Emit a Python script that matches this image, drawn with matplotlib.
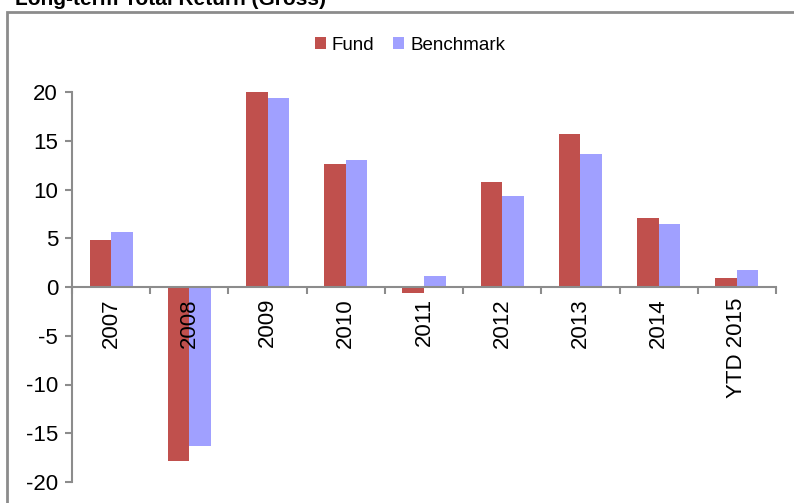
import numpy as np
import matplotlib.pyplot as plt
from matplotlib.patches import Rectangle

plt.rcParams['font.family'] = ['Liberation Sans', 'DejaVu Sans']
plt.rcParams['axes.unicode_minus'] = False

# data
years = ['2007', '2008', '2009', '2010', '2011', '2012', '2013', '2014', 'YTD 2015']
fund = [4.8, -17.8, 20.0, 12.6, -0.6, 10.8, 15.7, 7.1, 0.9]
benchmark = [5.6, -16.3, 19.4, 13.0, 1.1, 9.3, 13.6, 6.5, 1.7]

fund_col = '#c0504d'
bench_col = '#a0a0ff'
grey = '#8c8c8c'

fig = plt.figure(figsize=(7.94, 5.03), dpi=100)

# outer frame and title
fig.patches.append(Rectangle((7/794, -0.05), 1.0, 1 - 12/503 + 0.05,
                             transform=fig.transFigure, fill=False,
                             edgecolor=grey, linewidth=2))
fig.text(15/794, 1 - 5/503, 'Long-term Total Return (Gross)', fontsize=15,
         fontweight='bold', va='baseline', ha='left')

ax = fig.add_axes([72/794, 1 - 482/503, (776 - 72)/794, (482 - 92)/503])

x = np.arange(len(years))
w = 0.275
ax.bar(x - w/2, fund, w, color=fund_col, label='Fund')
ax.bar(x + w/2, benchmark, w, color=bench_col, label='Benchmark')

ax.set_xlim(-0.5, len(years) - 0.5)
ax.set_ylim(-20, 20)
ax.set_yticks(np.arange(-20, 21, 5))
ax.tick_params(axis='y', labelsize=16, direction='out', length=5, color=grey, width=1.5, pad=5)

for s in ['top', 'right']:
    ax.spines[s].set_visible(False)
ax.spines['left'].set_color(grey)
ax.spines['left'].set_linewidth(1.5)
ax.spines['bottom'].set_position(('data', 0))
ax.spines['bottom'].set_color(grey)
ax.spines['bottom'].set_linewidth(1.5)

ax.set_xticks(np.arange(-0.5, len(years), 1.0))
ax.set_xticklabels([])
ax.tick_params(axis='x', which='major', direction='out', length=5, color=grey, width=1.5)
ax.set_xticks(x, minor=True)
ax.set_xticklabels(years, minor=True, rotation=90, fontsize=16)
ax.tick_params(axis='x', which='minor', length=0, pad=8)

fig.legend(loc='center', bbox_to_anchor=(410/794, 1 - 45/503), ncol=2, frameon=False,
           fontsize=13.5, handlelength=0.6, handleheight=0.6, handletextpad=0.3,
           columnspacing=1.0)

fig.savefig('out.png', dpi=100)
